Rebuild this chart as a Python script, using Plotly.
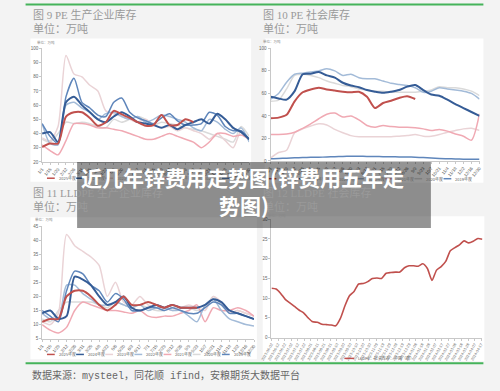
import plotly.graph_objects as go

# ---------------- data ----------------
weeks = ["1/1", "1/15", "1/29", "2/12", "2/26", "3/11", "3/25", "4/8", "4/22",
         "5/6", "5/20", "6/3", "6/17", "7/1", "7/15", "7/29", "8/12", "8/26",
         "9/9", "9/23", "10/7", "10/21", "11/4", "11/18", "12/2", "12/16", "12/30"]

series_names = ["2025年度", "2024年度", "2023年度", "2022年度", "2021年度", "2020年度", "2019年度"]

# 图9 PE 生产企业库存
pe_prod_2025 = [30.5, 33, 33, 52, 55, 55, 51, 45.5, 48, 56, 53.5, 51, 48, 45.5, 46, 53, 46, 46, 50, 48]
pe_prod_2024 = [40, 41, 34, 62, 66, 60, 55, 50, 48, 52, 55, 52, 48, 47, 46, 44, 46, 43, 46, 48, 50, 47, 54, 50, 44, 41, 36]
pe_prod_2023 = [37, 35, 45, 95, 82, 80, 74, 70, 56, 54, 52, 50, 48, 50, 46, 44, 45, 42, 44, 42, 40, 36, 40, 35, 30, 42, 35]
pe_prod_2022 = [47, 33, 32, 60, 62, 58, 55, 50, 54, 55, 52, 50, 52, 48, 50, 53, 52, 50, 48, 44, 42, 50, 48, 43, 40, 44, 34]
pe_prod_2021 = [32, 28, 25, 35, 47, 47, 46, 44, 44, 43, 42, 40, 38, 36, 36, 38, 40, 38, 36, 34, 30, 34, 40, 40, 38, 39, 36]
pe_prod_2020 = [36, 34, 40, 48, 47, 48, 47, 45, 44, 50, 48, 50, 52, 50, 46, 48, 47, 46, 44, 43, 42, 40, 38, 36, 34, 45, 38]
pe_prod_2019 = [47, 38, 33, 66, 79, 62, 58, 53, 52, 62, 65, 55, 51, 49, 47, 51, 54, 49, 46, 46, 47, 55, 53, 45, 42, 42, 36]

# 图10 PE 社会库存
pe_soc_2025 = [38, 38.5, 41, 53, 61, 63.5, 65, 63.5, 62.5, 61.5, 61, 61.5, 57, 47, 51.5, 53.5, 56, 57.5, 55]
pe_soc_2024 = [57, 55.5, 54.5, 62, 77, 77.5, 79, 76, 74, 69.5, 67, 65.5, 63, 61.5, 60.5, 61.5, 63, 66, 67.5, 63, 59, 58, 54.5, 50.5, 47, 43.5, 40]
pe_soc_2023 = [2.5, 7.5, 9.5, 25, 28.5, 31, 33, 32, 28, 25, 22.5, 21.5, 21.5, 21.5, 21.5, 21.5, 22, 22.5, 23.5, 22, 22, 23.5, 25.5, 27, 28.5, 29, 27]
pe_soc_2022 = [55, 60, 70, 77, 78, 79, 80, 82, 80, 76, 77, 74, 73, 73, 71, 69, 68, 67, 65, 61, 62, 65, 64, 63, 62, 60, 55]
pe_soc_2021 = [23.5, 23.5, 24, 25.5, 29, 33, 37.5, 41.5, 42.5, 39, 40, 36.5, 31.5, 30, 31.5, 30.5, 30, 30, 29.5, 28.5, 27, 28, 26.5, 24, 22, 18.5, 42]
pe_soc_2020 = [53, 54, 64, 76, 77, 76, 74, 71, 69, 67, 66, 64, 63, 62, 62, 61, 61, 61, 61, 62, 63, 66, 65, 65, 64, 62, 58]
pe_soc_2019 = [2, 2.2, 2.5, 2.8, 3, 3.2, 3.3, 3.5, 3.8, 4, 4.2, 4.2, 4, 4, 3.8, 3.7, 3.6, 3.5, 3.3, 3, 2.6, 2.2, 2, 1.8, 1.6, 1.5, 1.5]

# 图11 LLDPE 生产企业库存
lldpe_prod_2025 = [11, 12, 12, 20, 22, 22, 20, 17, 15, 17, 20, 17, 17, 18, 17, 16, 17, 16, 16, 16]
lldpe_prod_2024 = [14, 15, 12, 13, 27, 26, 24, 20, 17, 18, 20, 16, 15, 16, 17, 16, 17, 16, 16, 16, 17, 19, 18, 15, 14, 13, 12]
lldpe_prod_2023 = [11, 10, 14, 42, 38, 36, 34, 31, 20, 25, 18, 17, 20, 17, 16, 16, 15, 16, 17, 16, 15, 20, 18, 14, 15, 14, 13]
lldpe_prod_2022 = [14, 12, 12, 24, 24, 21, 19, 17, 17, 18, 17, 16, 17, 15, 16, 16, 15, 15, 13, 11, 17, 19, 15, 12, 11, 10, 9.5]
lldpe_prod_2021 = [10, 8, 7, 9, 15, 18, 17, 16, 15, 15, 14.5, 14, 15, 13, 12.5, 13, 13, 14, 15, 17, 11, 16, 15, 15, 16, 15, 13]
lldpe_prod_2020 = [12, 11, 15, 18, 18, 18, 18, 17, 16, 18, 17, 16, 17, 16, 15, 15, 16, 16, 16, 15, 16, 20, 17, 14, 15, 14, 13]
lldpe_prod_2019 = [15, 13, 11, 22, 29, 28, 24, 22, 18, 21, 19, 15, 15, 16, 16, 15, 16, 15, 14, 14, 16, 18, 17, 14, 14, 13, 12]

# 图12 LLDPE 社会库存
lldpe_soc_dates = ["2023-06-02", "2023-06-09", "2023-06-16", "2023-06-23", "2023-06-30",
                   "2023-07-07", "2023-07-14", "2023-07-21", "2023-07-28", "2023-08-04",
                   "2023-08-11", "2023-08-18", "2023-08-25", "2023-09-01", "2023-09-08",
                   "2023-09-15", "2023-09-22", "2023-09-29", "2023-10-06", "2023-10-13",
                   "2023-10-20", "2023-10-27", "2023-11-03", "2023-11-10", "2023-11-17",
                   "2023-11-24", "2023-12-01", "2023-12-08", "2023-12-15", "2023-12-22",
                   "2023-12-29", "2024-01-05", "2024-01-12", "2024-01-19", "2024-01-26",
                   "2024-02-02", "2024-02-09", "2024-02-16", "2024-02-23", "2024-03-01",
                   "2024-03-08", "2024-03-15", "2024-03-22", "2024-03-29", "2024-04-05",
                   "2024-04-12", "2024-04-19"]
lldpe_soc_values = [12.5, 12.3, 11.2, 9.7, 8.8, 7.9, 7.0, 6.3, 5.0, 4.0,
                    3.9, 3.4, 3.3, 3.2, 3.0, 4.8, 8.0, 10.6, 11.7, 13.6,
                    13.7, 14.2, 15.0, 15.1, 15.0, 16.3, 16.5, 16.6, 16.6, 17.7,
                    18.2, 18.2, 18.1, 18.7, 17.5, 14.5, 17.1, 18.0, 19.3, 22.0,
                    22.8, 23.5, 24.5, 24.0, 24.4, 25.1, 24.9]
lldpe_soc_name = "LLDPE：社会库存：中国（周）"

# ---------------- styling ----------------
W, H = 500, 391
def px(x):
    return x / W
def py(y):
    return 1 - y / H

colors = {"2025年度": "#c0504d", "2024年度": "#355c96", "2023年度": "#ead3d6",
          "2022年度": "#a3bbd8", "2021年度": "#f0a9b3", "2020年度": "#dadada",
          "2019年度": "#5f86bb"}
widths = {"2025年度": 2.0, "2024年度": 2.0, "2023年度": 1.5, "2022年度": 1.5,
          "2021年度": 1.5, "2020年度": 1.5, "2019年度": 1.5}
draw_order = ["2020年度", "2023年度", "2021年度", "2022年度", "2019年度", "2024年度", "2025年度"]

fig = go.Figure()

groups = [
    ("x", "y", dict(zip(series_names, [pe_prod_2025, pe_prod_2024, pe_prod_2023, pe_prod_2022,
                                       pe_prod_2021, pe_prod_2020, pe_prod_2019]))),
    ("x2", "y2", dict(zip(series_names, [pe_soc_2025, pe_soc_2024, pe_soc_2023, pe_soc_2022,
                                         pe_soc_2021, pe_soc_2020, pe_soc_2019]))),
    ("x3", "y3", dict(zip(series_names, [lldpe_prod_2025, lldpe_prod_2024, lldpe_prod_2023,
                                         lldpe_prod_2022, lldpe_prod_2021, lldpe_prod_2020,
                                         lldpe_prod_2019]))),
]
for xa, ya, data in groups:
    for name in draw_order:
        vals = data[name]
        fig.add_trace(go.Scatter(
            x=weeks[:len(vals)], y=vals, mode="lines", name=name, showlegend=False,
            line=dict(color=colors[name], width=widths[name], shape="spline", smoothing=0.7),
            xaxis=xa, yaxis=ya, hoverinfo="skip"))

fig.add_trace(go.Scatter(
    x=lldpe_soc_dates, y=lldpe_soc_values, mode="lines", name=lldpe_soc_name, showlegend=False,
    line=dict(color="#c0504d", width=1.6, shape="spline", smoothing=0.6),
    xaxis="x4", yaxis="y4", hoverinfo="skip"))

axis_common = dict(showline=True, linecolor="#c8c8c8", linewidth=1, ticks="outside",
                   ticklen=2, tickcolor="#c8c8c8", showgrid=False, zeroline=False,
                   tickfont=dict(size=4.5, color="#666666", family="Liberation Sans"))

def xaxis(x0, x1, anchor, angle=-50):
    return dict(axis_common, domain=[px(x0), px(x1)], anchor=anchor, tickangle=angle,
                type="category", range=[0, len(weeks) - 1])

def yaxis(y_top, y_bot, anchor, lo, hi, step):
    return dict(axis_common, domain=[py(y_bot), py(y_top)], anchor=anchor,
                range=[lo, hi], dtick=step, tick0=lo)

fig.update_layout(
    width=W, height=H, autosize=False,
    margin=dict(l=0, r=0, t=0, b=0),
    paper_bgcolor="#f3f3f3", plot_bgcolor="rgba(0,0,0,0)",
    showlegend=False,
    xaxis=xaxis(32, 245, "y"),
    yaxis=yaxis(47, 162, "x", 20, 100, 10),
    xaxis2=xaxis(267, 482, "y2"),
    yaxis2=yaxis(47, 161, "x2", 0, 100, 20),
    xaxis3=xaxis(32, 250, "y3"),
    yaxis3=yaxis(227, 341, "x3", 5, 45, 5),
    xaxis4=dict(axis_common, domain=[px(268), px(485)], anchor="y4", type="date",
                range=[lldpe_soc_dates[0], lldpe_soc_dates[-1]], dtick=10 * 86400000,
                tick0=lldpe_soc_dates[0], tickformat="%Y-%m-%d", tickangle=-60,
                tickfont=dict(size=3.8, color="#666666", family="Liberation Sans")),
    yaxis4=yaxis(220, 340, "x4", 0, 30, 5),
)

shapes = []
# white chart boxes
for (x0, y0, x1, y1) in [(20, 37, 247, 182), (261, 37, 486, 183),
                         (20, 218, 253, 362), (259, 217, 487, 364)]:
    shapes.append(dict(type="rect", xref="paper", yref="paper", x0=px(x0), x1=px(x1),
                       y0=py(y1), y1=py(y0), fillcolor="white", line=dict(width=0),
                       layer="below"))
# green rules
for yy in (2.5, 366):
    shapes.append(dict(type="line", xref="paper", yref="paper", x0=px(15), x1=px(486),
                       y0=py(yy), y1=py(yy), line=dict(color="#45b35a", width=2), layer="below"))

annotations = []
title_font = dict(family="Liberation Serif, Noto Sans CJK SC", size=11, color="#9a9a9a")
for (x, y, t) in [(21, 13, "图 9 PE 生产企业库存"), (21, 27, "单位：万吨"),
                  (257, 13, "图 10 PE 社会库存"), (257, 27, "单位：万吨"),
                  (21, 193, "图 11 LLDPE 生产企业库存"), (21, 207, "单位：万吨"),
                  (257, 193, "图 12 LLDPE 社会库存"), (257, 207, "单位：万吨")]:
    annotations.append(dict(x=px(x), y=py(y), xref="paper", yref="paper", text=t,
                            showarrow=False, xanchor="left", yanchor="middle", font=title_font))

# tiny unit labels inside charts
for (x, y) in [(25, 41), (257, 40), (23, 220), (262, 216)]:
    annotations.append(dict(x=px(x), y=py(y), xref="paper", yref="paper", text="单位：万吨",
                            showarrow=False, xanchor="left", yanchor="middle",
                            font=dict(size=3.5, color="#888888", family="Noto Sans CJK SC")))

# manual legends
def legend_row(x_start, y, names, step=30):
    for k, name in enumerate(names):
        x0 = x_start + k * step
        shapes.append(dict(type="line", xref="paper", yref="paper", x0=px(x0), x1=px(x0 + 8),
                           y0=py(y), y1=py(y), line=dict(color=colors[name], width=1.5)))
        annotations.append(dict(x=px(x0 + 10), y=py(y), xref="paper", yref="paper", text=name,
                                showarrow=False, xanchor="left", yanchor="middle",
                                font=dict(size=4, color="#666666", family="Noto Sans CJK SC")))

legend_row(37, 178.5, series_names)
legend_row(265, 179, series_names)
legend_row(37, 357, series_names)
shapes.append(dict(type="line", xref="paper", yref="paper", x0=px(343), x1=px(353),
                   y0=py(361), y1=py(361), line=dict(color="#c0504d", width=1.5)))
annotations.append(dict(x=px(355), y=py(361), xref="paper", yref="paper", text=lldpe_soc_name,
                        showarrow=False, xanchor="left", yanchor="middle",
                        font=dict(size=4, color="#666666", family="Noto Sans CJK SC")))

# source line
annotations.append(dict(x=px(20), y=py(378), xref="paper", yref="paper",
                        text="数据来源：mysteel，同花顺 ifind，安粮期货大数据平台",
                        showarrow=False, xanchor="left", yanchor="middle",
                        font=dict(size=10, color="#666666",
                                  family="Liberation Mono, Noto Sans CJK SC")))

# overlay caption
shapes.append(dict(type="rect", xref="paper", yref="paper", x0=px(68), x1=px(432),
                   y0=py(229), y1=py(162), fillcolor="rgba(0,0,0,0.42)",
                   line=dict(width=0), layer="above"))
cap_font = dict(family="Noto Sans CJK SC", size=21, color="white")
annotations.append(dict(x=px(238), y=py(177), xref="paper", yref="paper",
                        text="<b>近几年锌费用走势图(锌费用五年走</b>", showarrow=False,
                        xanchor="center", yanchor="middle", font=cap_font))
annotations.append(dict(x=px(240), y=py(206), xref="paper", yref="paper",
                        text="<b>势图)</b>", showarrow=False,
                        xanchor="center", yanchor="middle", font=cap_font))

fig.update_layout(shapes=shapes, annotations=annotations)

fig.write_html("out.html", config={"displayModeBar": False},
               post_script="document.body.style.margin='0';document.body.style.overflow='hidden';")
